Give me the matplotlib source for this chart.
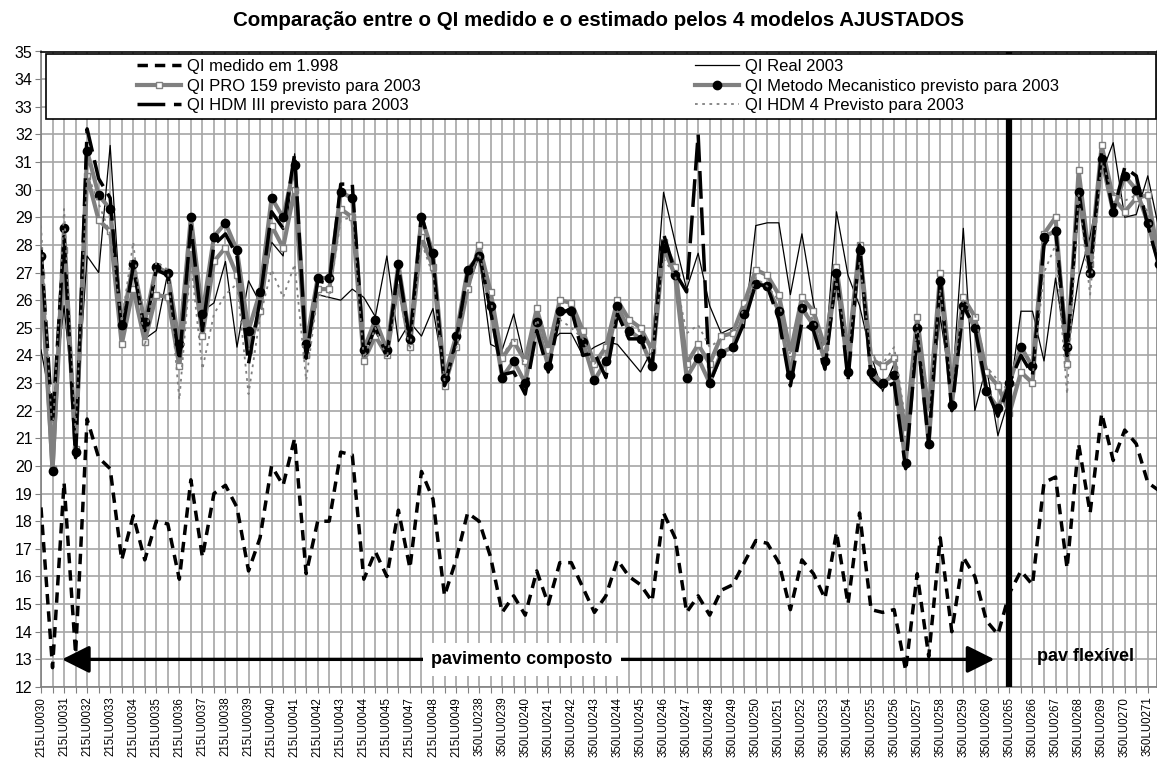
import matplotlib
matplotlib.use("Agg")
import matplotlib.pyplot as plt
from matplotlib.patches import Rectangle
import numpy as np

plt.rcParams['font.family'] = ['Liberation Sans', 'DejaVu Sans']

# rótulos do eixo x (um a cada 2 categorias)
rotulos = ['215LU0030', '215LU0031', '215LU0032', '215LU0033', '215LU0034', '215LU0035',
           '215LU0036', '215LU0037', '215LU0038', '215LU0039', '215LU0040', '215LU0041',
           '215LU0042', '215LU0043', '215LU0044', '215LU0045', '215LU0047', '215LU0048',
           '215LU0049', '350LU0238', '350LU0239', '350LU0240', '350LU0241', '350LU0242',
           '350LU0243', '350LU0244', '350LU0245', '350LU0246', '350LU0247', '350LU0248',
           '350LU0249', '350LU0250', '350LU0251', '350LU0252', '350LU0253', '350LU0254',
           '350LU0255', '350LU0256', '350LU0257', '350LU0258', '350LU0259', '350LU0260',
           '350LU0265', '350LU0266', '350LU0267', '350LU0268', '350LU0269', '350LU0270',
           '350LU0271']

qi_medido_1998 = [18.5, 12.7, 19.4, 13.2, 21.7, 20.3, 19.9, 16.6, 18.2, 16.6,
                  18.0, 17.9, 15.9, 19.5, 16.7, 19.0, 19.3, 18.5, 16.2, 17.4,
                  20.0, 19.3, 21.0, 16.1, 18.0, 18.0, 20.5, 20.4, 15.9, 16.9,
                  16.0, 18.4, 16.3, 19.8, 18.8, 15.3, 16.6, 18.3, 18.0, 16.7,
                  14.7, 15.3, 14.6, 16.2, 15.0, 16.5, 16.5, 15.6, 14.7, 15.3,
                  16.6, 16.0, 15.7, 15.1, 18.3, 17.4, 14.7, 15.3, 14.6, 15.5,
                  15.7, 16.5, 17.3, 17.2, 16.5, 14.8, 16.6, 16.1, 15.2, 17.6,
                  15.0, 18.3, 14.8, 14.7, 14.8, 12.6, 16.1, 13.1, 17.4, 14.0,
                  16.7, 16.0, 14.4, 13.9, 15.4, 16.2, 15.7, 19.4, 19.6, 16.3,
                  20.8, 18.3, 21.9, 20.2, 21.3, 20.8, 19.4, 19.1]

qi_real_2003 = [24.2, 22.0, 25.8, 21.5, 27.6, 27.0, 31.6, 25.1, 26.3, 24.6,
                24.9, 27.0, 23.8, 27.5, 25.6, 25.9, 27.4, 24.3, 26.7, 25.9,
                28.1, 27.6, 31.3, 24.6, 26.2, 26.1, 26.0, 26.4, 26.1, 25.4,
                27.6, 24.5, 25.2, 24.7, 25.7, 23.2, 24.7, 26.4, 27.6, 24.4,
                24.2, 25.5, 23.7, 24.9, 24.4, 24.8, 24.8, 24.0, 24.3, 24.5,
                24.4, 23.9, 23.4, 24.2, 29.9, 28.1, 26.4, 27.7, 25.8, 24.8,
                25.0, 25.0, 28.7, 28.8, 28.8, 26.2, 28.4, 25.9, 23.9, 29.2,
                26.9, 25.8, 24.0, 22.7, 23.7, 21.3, 24.3, 21.8, 25.4, 22.6,
                28.6, 22.0, 23.6, 21.1, 22.5, 25.6, 25.6, 23.8, 26.8, 24.0,
                26.8, 28.3, 30.6, 31.7, 29.0, 29.1, 30.5, 28.5]

qi_pro159 = [26.9, 19.9, 27.8, 20.6, 30.5, 28.9, 28.5, 24.4, 26.4, 24.5,
             26.2, 26.1, 23.6, 27.9, 24.7, 27.4, 27.9, 26.9, 24.2, 25.6,
             28.7, 27.9, 30.0, 24.0, 26.4, 26.4, 29.3, 29.0, 23.8, 24.7,
             24.0, 26.7, 24.3, 28.3, 27.2, 22.9, 24.3, 26.4, 28.0, 26.3,
             23.9, 24.5, 23.8, 25.7, 24.2, 26.0, 25.9, 24.9, 23.7, 24.3,
             26.0, 25.3, 25.0, 24.2, 28.1, 27.2, 23.7, 24.4, 23.7, 24.7,
             24.8, 25.9, 27.1, 26.9, 26.2, 24.1, 26.1, 25.6, 24.3, 27.2,
             24.1, 28.0, 23.9, 23.6, 23.9, 21.2, 25.4, 21.9, 27.0, 22.9,
             26.1, 25.4, 23.4, 22.9, 21.9, 23.4, 23.0, 28.4, 29.0, 23.7,
             30.7, 27.3, 31.6, 29.7, 29.2, 29.7, 29.8, 27.4]

qi_mecanistico = [27.6, 19.8, 28.6, 20.5, 31.4, 29.8, 29.3, 25.1, 27.3, 25.2,
                  27.2, 27.0, 24.4, 29.0, 25.5, 28.3, 28.8, 27.8, 24.9, 26.3,
                  29.7, 29.0, 30.9, 24.4, 26.8, 26.8, 29.9, 29.7, 24.2, 25.3,
                  24.2, 27.3, 24.6, 29.0, 27.7, 23.2, 24.7, 27.1, 27.6, 25.8,
                  23.2, 23.8, 23.0, 25.2, 23.6, 25.6, 25.6, 24.5, 23.1, 23.8,
                  25.8, 24.9, 24.6, 23.6, 27.9, 26.9, 23.2, 23.9, 23.0, 24.1,
                  24.3, 25.5, 26.6, 26.5, 25.6, 23.3, 25.7, 25.1, 23.8, 27.0,
                  23.4, 27.8, 23.4, 23.0, 23.3, 20.1, 25.0, 20.8, 26.7, 22.2,
                  25.8, 25.0, 22.7, 22.1, 23.0, 24.3, 23.6, 28.3, 28.5, 24.3,
                  29.9, 27.0, 31.1, 29.2, 30.5, 30.0, 28.8, 27.3]

qi_hdm3 = [27.9, 21.5, 28.3, 20.3, 32.2, 30.4, 29.7, 24.8, 27.2, 24.9,
           27.1, 26.9, 23.8, 28.7, 24.9, 28.0, 28.4, 27.6, 23.7, 26.0,
           29.2, 28.6, 31.3, 23.9, 26.7, 26.6, 30.2, 30.2, 24.0, 25.0,
           24.0, 27.2, 24.5, 29.1, 27.5, 22.9, 24.5, 27.0, 27.7, 25.6,
           23.3, 23.4, 22.6, 24.9, 23.4, 25.5, 25.7, 24.0, 24.1, 23.2,
           25.5, 24.6, 24.6, 23.6, 28.4, 27.0, 26.3, 32.0, 23.0, 24.0,
           24.2, 25.2, 26.6, 26.5, 25.3, 22.9, 25.2, 24.9, 23.5, 27.0,
           23.1, 28.0, 23.2, 22.8, 23.0, 19.9, 24.8, 20.8, 26.8, 22.0,
           25.8, 25.0, 22.8, 21.8, 23.0, 24.0, 23.3, 28.0, 28.6, 24.0,
           30.0, 27.0, 31.4, 29.2, 30.8, 30.5, 28.7, 27.2]

qi_hdm4 = [28.7, 21.0, 29.3, 21.2, 30.6, 29.5, 28.4, 25.2, 28.1, 24.3,
           27.4, 27.1, 22.4, 27.4, 23.5, 25.5, 26.2, 26.6, 22.6, 25.4,
           27.1, 26.1, 27.3, 23.1, 26.2, 26.1, 28.9, 29.0, 23.9, 25.0,
           23.9, 26.4, 24.2, 28.1, 26.9, 23.1, 24.2, 26.3, 27.7, 26.0,
           24.0, 24.6, 23.6, 25.3, 24.3, 25.3, 25.0, 24.6, 23.7, 24.1,
           25.6, 25.1, 24.9, 24.1, 27.5, 26.9, 24.8, 25.1, 24.3, 24.6,
           24.9, 25.7, 26.8, 26.5, 26.0, 24.0, 25.7, 25.3, 24.2, 26.7,
           24.1, 27.4, 24.0, 23.7, 24.3, 21.6, 25.1, 21.9, 26.4, 22.9,
           26.0, 25.5, 23.6, 23.1, 22.7, 23.2, 23.2, 27.0, 28.0, 22.6,
           29.8, 26.2, 31.0, 29.9, 29.6, 29.8, 29.2, 27.5]

# divisão entre pavimentos
idx_divisa = 84
seta_ini, seta_fim = 1.82, 82.7

W, H = 1157, 760
fig = plt.figure(figsize=(W / 100, H / 100), dpi=100)
ax = fig.add_axes([41 / W, 1 - 687 / H, (W - 41) / W, (687 - 51.5) / H])

x = np.arange(len(qi_medido_1998))
cinza = '#808080'

l_med, = ax.plot(x, qi_medido_1998, color='black', lw=2.5, ls=(0, (3, 2)), zorder=3)
l_real, = ax.plot(x, qi_real_2003, color='black', lw=0.9, zorder=3)
l_pro, = ax.plot(x, qi_pro159, color=cinza, lw=3, marker='s', ms=5,
                 mfc='white', mec=cinza, mew=1, zorder=4)
l_mec, = ax.plot(x, qi_mecanistico, color=cinza, lw=3, marker='o', ms=6,
                 mfc='black', mec='black', zorder=5)
l_h3, = ax.plot(x, qi_hdm3, color='black', lw=2.5, ls=(0, (8, 2.5)), zorder=6)
l_h4, = ax.plot(x, qi_hdm4, color=cinza, lw=1.3, ls=(0, (1.5, 2.5)), zorder=7)

ax.axvline(idx_divisa, ymin=0, ymax=1, color='black', lw=4.5, zorder=8)

ax.annotate('', xy=(seta_ini, 13), xytext=(seta_fim, 13),
            arrowprops=dict(arrowstyle='<|-|>,head_length=1.4,head_width=0.7',
                            lw=2.4, color='black', shrinkA=0, shrinkB=0,
                            mutation_scale=12), zorder=9)
ax.text(41.7, 13, 'pavimento composto', ha='center', va='center', fontsize=13,
        fontweight='bold', zorder=10,
        bbox=dict(facecolor='white', edgecolor='none', pad=6))
ax.text(90.6, 13.1, 'pav flexível', ha='center', va='center', fontsize=13,
        fontweight='bold', zorder=10)

ax.set_xlim(0, 96.8)
ax.set_ylim(12, 35)
ax.set_yticks(range(12, 36))
ax.set_xticks(x[:97])
ax.set_xticklabels([rotulos[i // 2] if i % 2 == 0 else '' for i in range(97)],
                   rotation=90, fontsize=8.3)
ax.tick_params(axis='y', labelsize=11.5, length=4, color=cinza, pad=2)
ax.tick_params(axis='x', length=4, color=cinza, pad=3)
ax.grid(True, color='#a6a6a6', lw=1.2, zorder=0)
ax.set_axisbelow(True)
for s in ax.spines.values():
    s.set_color(cinza)
    s.set_linewidth(1.2)
ax.spines['top'].set_color('black')

fig.text(0.5175, 1 - 20 / H, 'Comparação entre o QI medido e o estimado pelos 4 modelos AJUSTADOS',
         ha='center', va='center', fontsize=14.8, fontweight='bold')

# legenda: caixa e duas colunas
fig.patches.append(Rectangle((46 / W, 1 - 119 / H), 1110 / W, 65 / H, transform=fig.transFigure,
                             facecolor='white', edgecolor='black', lw=1.2, zorder=4))
kw = dict(loc='upper left', frameon=False, fontsize=12, borderpad=0, borderaxespad=0,
          handlelength=2.65, handletextpad=0.35, labelspacing=0.27)
leg1 = fig.legend([l_med, l_pro, l_h3],
                  ['QI medido em 1.998', 'QI PRO 159 previsto para 2003', 'QI HDM III previsto para 2003'],
                  bbox_to_anchor=(137 / W, 1 - 59 / H), **kw)
leg2 = fig.legend([l_real, l_mec, l_h4],
                  ['QI Real 2003', 'QI Metodo Mecanistico previsto para 2003', 'QI HDM 4 Previsto para 2003'],
                  bbox_to_anchor=(695 / W, 1 - 59 / H), **kw)

fig.savefig('out.png', dpi=100)
